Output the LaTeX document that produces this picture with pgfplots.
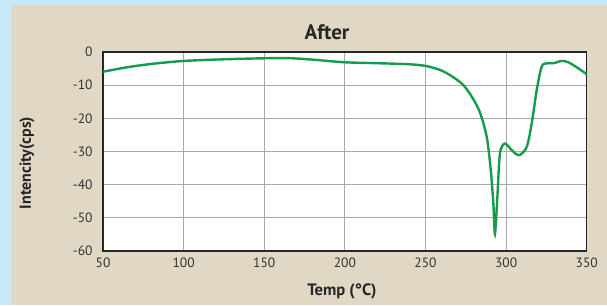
\documentclass[border=0pt]{standalone}
\usepackage{fontspec}
\setmainfont{PT Sans}
\usepackage{pgfplots}
\pgfplotsset{compat=1.18}
\definecolor{bgblue}{HTML}{C5E9F8}
\definecolor{panel}{HTML}{E0D8C5}
\definecolor{curve}{HTML}{169A4B}
\definecolor{gridc}{HTML}{AAAAAA}
\begin{document}
\begin{tikzpicture}[x=1pt,y=1pt]
\path[use as bounding box] (0,0) rectangle (607,305);
\fill[bgblue] (0,0) rectangle (607,305);
\fill[panel] (11,0) rectangle (607,300);
\begin{axis}[
  at={(103pt,54pt)}, anchor=south west,
  scale only axis, width=483.7pt, height=199pt,
  xmin=50, xmax=350, ymin=-60, ymax=0,
  xtick={50,100,...,350}, ytick={-60,-50,...,0},
  major tick length=0pt,
  grid=major,
  major grid style={gridc, line width=0.9pt},
  axis line style={black!85, line width=1.4pt},
  axis background/.style={fill=white},
  ticklabel style={font=\fontsize{13.5}{15}\selectfont, text=black!80},
  /pgf/number format/assume math mode=true,
  xticklabel style={yshift=-3pt},
  yticklabel style={xshift=-7pt},
  clip=true,
]
\addplot[curve, line width=2.4pt, smooth, tension=0.5] coordinates {
(50,-5.95) (65,-4.6) (80,-3.6) (100,-2.7) (125,-2.2) (150,-1.9) (165,-1.85)
(180,-2.3) (200,-3.1) (222,-3.4) (240,-3.7) (250,-4.2) (259,-5.4) (266,-7.2) (272.5,-9.5)
(276,-11.5) (280,-14.5) (284,-18.5) (288,-25.6) (290.5,-35.6) (292.1,-45.7) (293.1,-54.8)
(294.6,-43.7) (296.2,-30.6) (299.3,-27.6) (303.5,-29.6) (308,-31.1) (312.8,-28.6)
(315.9,-21.5) (319,-11.5) (322.1,-4.4) (325.6,-3.4) (329.3,-3.4) (334.5,-2.7)
(338.6,-3.1) (343.8,-4.6) (350,-6.7)
};
\end{axis}
\node[font=\bfseries\fontsize{21}{24}\selectfont, text=black!85] at (327,273) {After};
\node[font=\bfseries\fontsize{16.5}{19}\selectfont, text=black!85] at (342,14) {Temp (°C)};
\node[font=\bfseries\fontsize{16}{19}\selectfont, text=black!85, rotate=90] at (27,142) {Intencity(cps)};
\end{tikzpicture}
\end{document}
